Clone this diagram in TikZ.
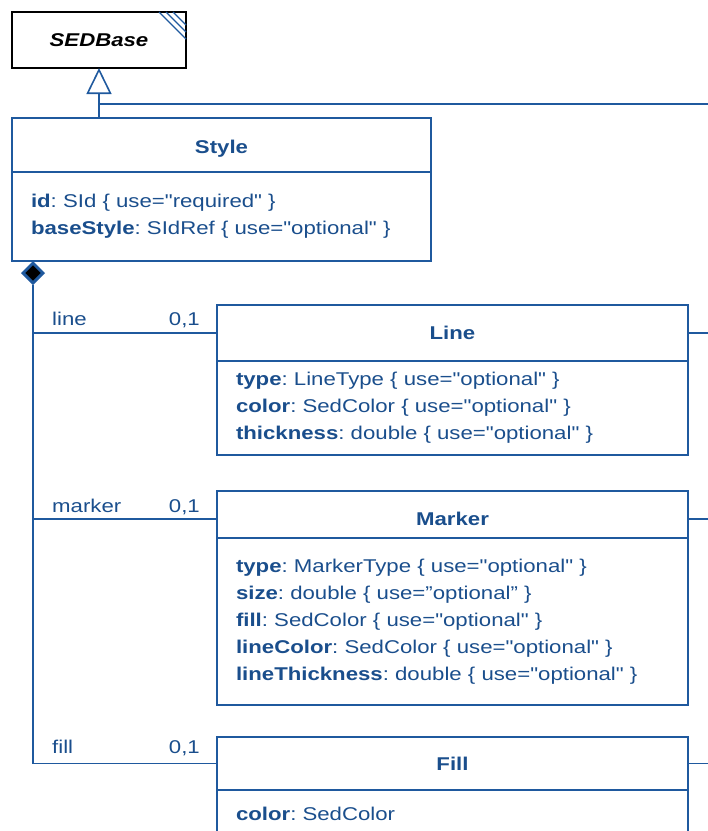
\documentclass[tikz,border=0pt]{standalone}
\usepackage{fontspec}
\setmainfont{Liberation Sans}[FakeStretch=1.2, Ligatures=TeXOff]
\usetikzlibrary{arrows.meta,shapes.geometric,positioning}
\definecolor{umlblue}{RGB}{31,89,158}
\definecolor{umltext}{RGB}{26,78,140}
\newcommand\umlsize{\fontsize{18.5}{27}\selectfont\frenchspacing}
\tikzset{
    basebox/.style={
    rectangle,draw=black,line width=1.6pt,inner sep=0pt,outer sep=0pt,anchor=north west,
    minimum width=174pt,minimum height=56pt,font=\umlsize\bfseries\itshape
    },
    classhead/.style={
    rectangle,draw=umlblue,line width=1.6pt,inner sep=0pt,outer sep=0pt,anchor=north west,
    minimum width=471pt,text=umltext,font=\umlsize\bfseries
    },
    classbody/.style={
    rectangle,draw=umlblue,line width=1.6pt,inner xsep=19pt,inner ysep=0pt,outer sep=0pt,
    anchor=north west,text width=433pt,align=left,text=umltext
    },
    rolelabel/.style={
    inner sep=0pt,text=umltext
    },
    compdiamond/.style={
    diamond,draw=umlblue,fill=black,line width=3pt,inner sep=0pt,
    minimum width=21pt,minimum height=21pt
    },
    assoc/.style={
    draw=umlblue,line width=1.6pt
    },
    generalization/.style={
    draw=umlblue,line width=1.6pt,
    -{Triangle[open,length=26pt,width=25pt,fill=white]}
    },
}

\begin{document}
\begin{tikzpicture}[x=1pt, y=-1pt, font=\umlsize]
  \path[use as bounding box, clip] (0,0) rectangle (708,831);

  % base class
  \node[basebox] (SEDBase) at (12,12) {SEDBase};
  \foreach \d in {13,20,27}
    \draw[umlblue, line width=1.4pt]
      ([xshift=-\d pt]SEDBase.north east) -- ([yshift=-\d pt]SEDBase.north east);

  % Style
  \node[classhead, minimum width=419pt, minimum height=54pt, text height=16pt, text depth=0pt] (StyleT) at (12,118) {Style};
  \node[classbody, text width=381pt, minimum height=89pt] (StyleB) at (StyleT.south west)
    {\textbf{id}: SId \{ use="required" \}\\
     \textbf{baseStyle}: SIdRef \{ use="optional" \}};

  % Line
  \node[classhead, minimum height=56pt] (LineT) at (217,305) {Line};
  \node[classbody, minimum height=94pt] (LineB) at (LineT.south west)
    {\textbf{type}: LineType \{ use="optional" \}\\
     \textbf{color}: SedColor \{ use="optional" \}\\
     \textbf{thickness}: double \{ use="optional" \}};

  % Marker
  \node[classhead, minimum height=47pt, text height=22.5pt, text depth=0pt] (MarkerT) at (217,491) {Marker};
  \node[classbody, minimum height=167pt] (MarkerB) at (MarkerT.south west)
    {\textbf{type}: MarkerType \{ use="optional" \}\\
     \textbf{size}: double \{ use=”optional” \}\\
     \textbf{fill}: SedColor \{ use="optional" \}\\
     \textbf{lineColor}: SedColor \{ use="optional" \}\\
     \textbf{lineThickness}: double \{ use="optional" \}};

  % Fill
  \node[classhead, minimum height=53pt] (FillT) at (217,737) {Fill};
  \node[classbody, minimum height=48pt] (FillB) at (FillT.south west)
    {\textbf{color}: SedColor};

  % inheritance
  \coordinate (edgeR) at (712,0);
  \coordinate (genR) at (712,104);
  \draw[generalization] (StyleT.north -| SEDBase.south) -- (SEDBase.south);
  \draw[assoc] (SEDBase.south |- genR) -- (genR);

  % composition
  \coordinate (markerL) at ([yshift=-4.5pt]MarkerT.west);
  \coordinate (markerE) at ([yshift=-4.5pt]MarkerT.east);
  \node[compdiamond] (Comp) at (33,273) {};
  \draw[assoc] (Comp.south) |- (FillT.west);
  \draw[assoc] (Comp.south |- LineT.west) -- (LineT.west);
  \draw[assoc] (Comp.south |- markerL) -- (markerL);

  \node[rolelabel, anchor=base west] (lineRole) at (52,325) {line};
  \node[rolelabel, anchor=base east] (lineMult) at (200,325) {0,1};
  \node[rolelabel, anchor=base west] (markerRole) at (52,512) {marker};
  \node[rolelabel, anchor=base east] (markerMult) at (200,512) {0,1};
  \node[rolelabel, anchor=base west] (fillRole) at (52,753) {fill};
  \node[rolelabel, anchor=base east] (fillMult) at (200,753) {0,1};

  % links leaving to the right
  \draw[assoc] (LineT.east) -- (LineT.east -| edgeR);
  \draw[assoc] (markerE) -- (markerE -| edgeR);
  \draw[assoc] (FillT.east) -- (FillT.east -| edgeR);

\end{tikzpicture}
\end{document}
